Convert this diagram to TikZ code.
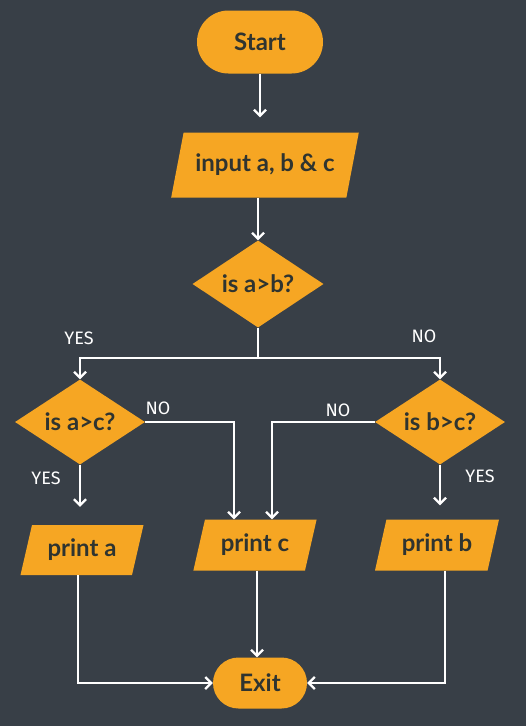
\documentclass[tikz,border=0pt]{standalone}
\usepackage{fontspec}
\setmainfont{Lato}
\newfontfamily\handfont{Fira Sans}
\usetikzlibrary{shapes.geometric,shapes.misc,arrows.meta,calc}
\definecolor{bg}{HTML}{383F47}
\definecolor{orng}{HTML}{F6A623}
\definecolor{txt}{HTML}{2F3430}
\begin{document}
\begin{tikzpicture}[x=1pt,y=-1pt,
 box/.style={fill=orng, text=txt, font=\bfseries\fontsize{24}{28}\selectfont, inner sep=0pt},
 term/.style={box, rounded rectangle},
 io/.style={box, trapezium, trapezium stretches=true},
 dec/.style={box, diamond, shape aspect=1.5},
 flow/.style={draw=white, line width=2.2pt, -{Straight Barb[length=6pt,width=12pt,line width=2.2pt]}},
 wire/.style={draw=white, line width=2.2pt},
 lbl/.style={text=white, font=\handfont\fontsize{18}{20}\selectfont}
]
\fill[bg] (0,0) rectangle (526,726);
\useasboundingbox (0,0) rectangle (526,726);

\node[term, minimum width=126pt, minimum height=63pt] (start) at (260,42) {Start};
\node[io, trapezium left angle=64, trapezium right angle=116, minimum width=188pt, minimum height=65pt] (input) at (265,165) {input a, b \& c};
\node[dec, minimum width=131pt, minimum height=87pt] (dab) at (258,284) {is a>b?};
\node[dec, minimum width=130pt, minimum height=85pt] (dac) at (80,422) {is a>c?};
\node[dec, minimum width=130pt, minimum height=85pt] (dbc) at (440,422) {is b>c?};
\node[io, trapezium left angle=70, trapezium right angle=110, minimum width=124pt, minimum height=50pt] (pa) at (82,550) {print a};
\node[io, trapezium left angle=70, trapezium right angle=110, minimum width=124pt, minimum height=51pt] (pc) at (255,545) {print c};
\node[io, trapezium left angle=70, trapezium right angle=110, minimum width=125pt, minimum height=51pt] (pb) at (437,545) {print b};
\node[term, minimum width=94pt, minimum height=51pt] (exit) at (260,683) {Exit};

\coordinate (split) at (258,358);

\draw[flow, shorten >=15pt] (start.south) -- (start.south |- input.north);
\draw[flow] (input.south -| dab.north) -- (dab.north);
\draw[wire] (dab.south) -- (split);
\draw[flow] (split) -| (dac.north);
\draw[flow] (split) -| (dbc.north);
\draw[flow] (dac.east) -| ($(pc.north)+(-21,0)$);
\draw[flow] (dbc.west) -| ($(pc.north)+(17,0)$);
\draw[flow, shorten >=18pt] (dac.south) -- (dac.south |- pa.north);
\draw[flow, shorten >=14pt] (dbc.south) -- (dbc.south |- pb.north);
\draw[flow] ($(pc.south)+(2,0)$) -- ($(pc.south |- exit.north)+(2,0)$);
\draw[flow] ($(pa.south)+(-4,0)$) |- (exit.west);
\draw[flow] ($(pb.south)+(8,0)$) |- (exit.east);

\node[lbl] (y1) at (79,338) {YES};
\node[lbl] (n1) at (424,336) {NO};
\node[lbl] (n2) at (158,408) {NO};
\node[lbl] (n3) at (338,410) {NO};
\node[lbl] (y2) at (46,478) {YES};
\node[lbl] (y3) at (480,476) {YES};
\end{tikzpicture}
\end{document}
